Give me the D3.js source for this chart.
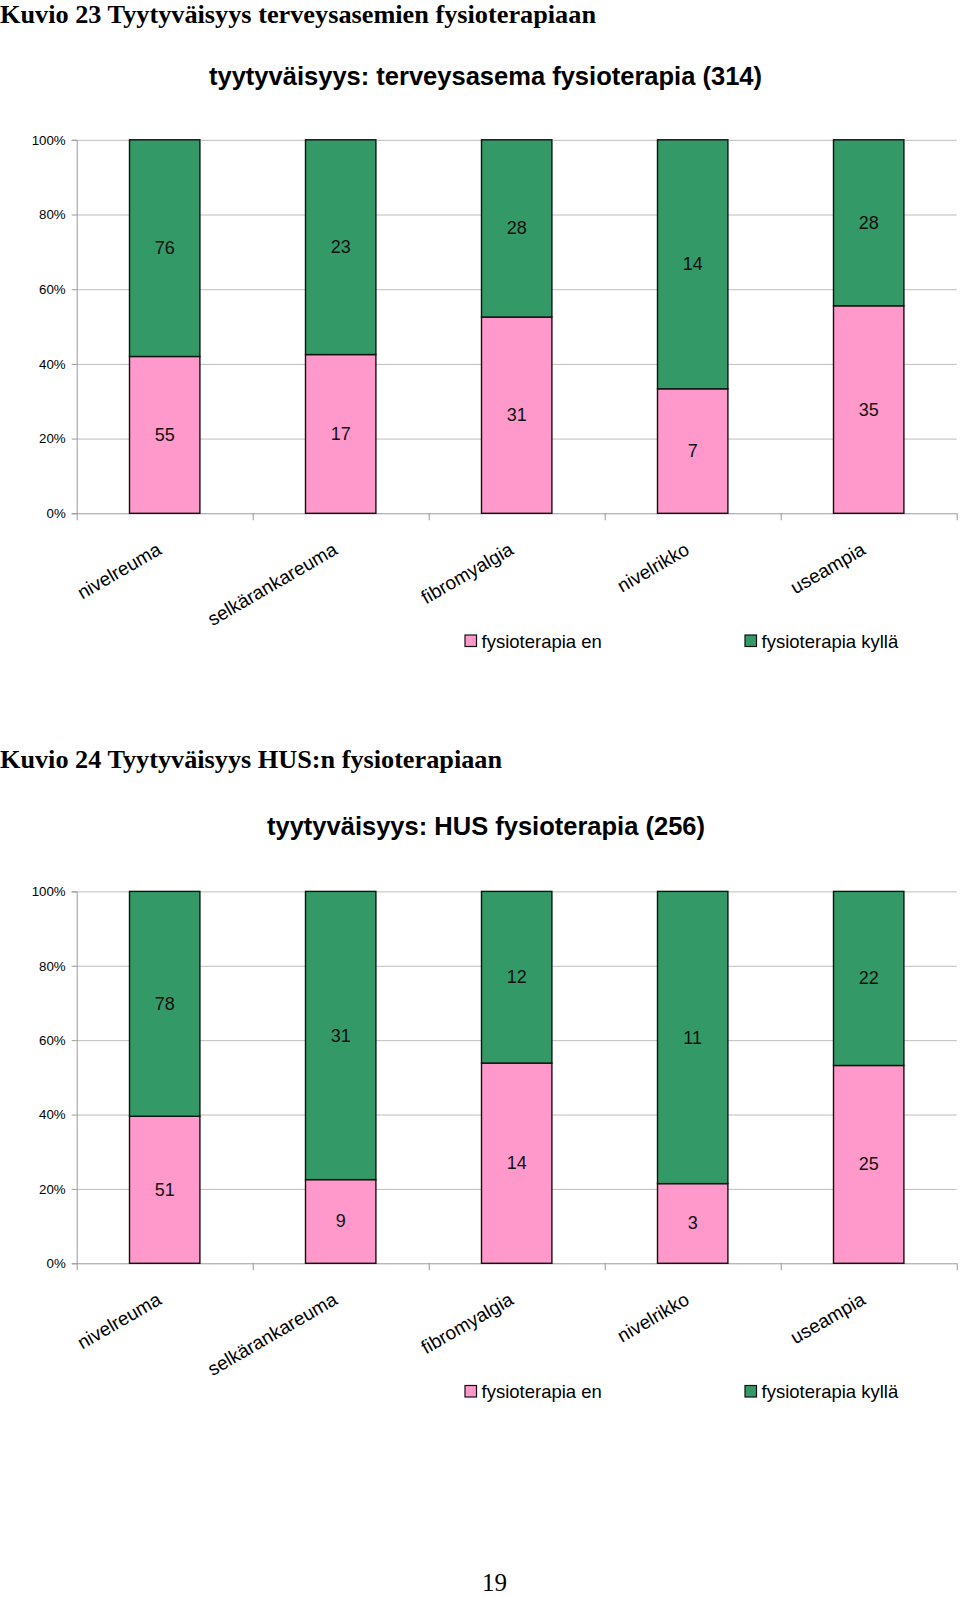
<!DOCTYPE html>
<html>
<head>
<meta charset="utf-8">
<script src="https://cdn.jsdelivr.net/npm/d3@7"></script>
<style>
  html, body { margin: 0; padding: 0; background: #fff; }
  svg { display: block; }
</style>
</head>
<body>
<svg id="page" width="960" height="1597"></svg>
<script>
// ---- data ----
const categories = ["nivelreuma", "selkärankareuma", "fibromyalgia", "nivelrikko", "useampia"];
const seriesNames = ["fysioterapia en", "fysioterapia kyllä"];
const chart1En = [55, 17, 31, 7, 35];
const chart1Kylla = [76, 23, 28, 14, 28];
const chart2En = [51, 9, 14, 3, 25];
const chart2Kylla = [78, 31, 12, 11, 22];
const yTickValues = [0, 0.2, 0.4, 0.6, 0.8, 1];
const headers = ["Kuvio 23 Tyytyväisyys terveysasemien fysioterapiaan", "Kuvio 24 Tyytyväisyys HUS:n fysioterapiaan"];
const titles = ["tyytyväisyys: terveysasema fysioterapia (314)", "tyytyväisyys: HUS fysioterapia (256)"];
const pageNumber = "19";

const colors = ["#FF99CC", "#339966"];
const sans = "'Liberation Sans', Arial, Helvetica, sans-serif";
const serif = "'Liberation Serif', 'Times New Roman', serif";

const svg = d3.select("#page");

function drawChart(cfg) {
  const g = svg.append("g");
  const left = 76.7, right = 956.7;

  // header (serif bold)
  g.append("text")
    .attr("x", 0).attr("y", cfg.headerY)
    .attr("font-family", serif).attr("font-weight", "bold")
    .attr("font-size", 25)
    .attr("textLength", cfg.headerWidth).attr("lengthAdjust", "spacingAndGlyphs")
    .text(cfg.header);

  // chart title
  g.append("text")
    .attr("x", cfg.titleX).attr("y", cfg.titleY)
    .attr("font-family", sans).attr("font-weight", "bold")
    .attr("font-size", 26)
    .attr("textLength", cfg.titleWidth).attr("lengthAdjust", "spacingAndGlyphs")
    .text(cfg.title);

  const x = d3.scaleBand().domain(categories).range([left, right])
    .paddingInner(0.6).paddingOuter(0.3);
  const y = d3.scaleLinear().domain([0, 1]).range([cfg.y0, cfg.y100]);

  const rows = categories.map((c, i) => ({ cat: c, en: cfg.en[i], kylla: cfg.kylla[i] }));
  const stack = d3.stack().keys(["en", "kylla"]).offset(d3.stackOffsetExpand);
  const series = stack(rows);

  // gridlines
  g.append("g")
    .attr("transform", `translate(${left},0)`)
    .call(d3.axisLeft(y).tickValues(yTickValues.slice(1)).tickSize(-(right - left)).tickFormat(""))
    .call(s => s.select(".domain").remove())
    .call(s => s.selectAll("line").attr("stroke", "#bdbdbd").attr("stroke-width", 1));

  // y axis
  g.append("g")
    .attr("transform", `translate(${left},0)`)
    .call(d3.axisLeft(y).tickValues(yTickValues).tickFormat(d3.format(".0%")).tickSize(5).tickPadding(6))
    .call(s => s.select(".domain").attr("stroke", "#9a9a9a"))
    .call(s => s.selectAll("line").attr("stroke", "#9a9a9a"))
    .call(s => s.selectAll("text").attr("font-family", sans).attr("font-size", 13.3).attr("fill", "#000"));

  // x axis line + boundary ticks
  const gap = (x.step() - x.bandwidth()) / 2;
  const bounds = categories.map(c => x(c) - gap).concat([right]);
  const xb = d3.scaleLinear().domain([left, right]).range([left, right]);
  g.append("g")
    .attr("transform", `translate(0,${cfg.y0})`)
    .call(d3.axisBottom(xb).tickValues(bounds).tickSize(7).tickSizeOuter(0).tickFormat(""))
    .call(s => s.select(".domain").attr("stroke", "#9a9a9a"))
    .call(s => s.selectAll("line").attr("stroke", "#9a9a9a"));

  // bars
  const sg = g.selectAll(".series").data(series).join("g")
    .attr("fill", (d, i) => colors[i]);
  sg.selectAll("rect").data(d => d).join("rect")
    .attr("x", d => x(d.data.cat))
    .attr("width", x.bandwidth())
    .attr("y", d => y(d[1]))
    .attr("height", d => y(d[0]) - y(d[1]))
    .attr("stroke", "#111").attr("stroke-width", 1.4);

  // value labels
  series.forEach((s, si) => {
    g.append("g").selectAll("text").data(s).join("text")
      .attr("x", d => x(d.data.cat) + x.bandwidth() / 2)
      .attr("y", d => (y(d[0]) + y(d[1])) / 2)
      .attr("text-anchor", "middle")
      .attr("dominant-baseline", "central")
      .attr("font-family", sans).attr("font-size", 18)
      .attr("fill", "#111")
      .text(d => d.data[s.key]);
  });

  // category labels
  g.append("g").selectAll("text").data(categories).join("text")
    .attr("transform", c => `translate(${x(c) + x.bandwidth() / 2 - 2},${cfg.y0 + 40}) rotate(-30)`)
    .attr("text-anchor", "end")
    .attr("font-family", sans).attr("font-size", 19)
    .attr("fill", "#000")
    .text(c => c);

  // legend
  const legX = [465, 745];
  const lg = g.append("g").selectAll("g").data(seriesNames).join("g")
    .attr("transform", (d, i) => `translate(${legX[i]},${cfg.legendY})`);
  lg.append("rect")
    .attr("x", 0).attr("y", -6).attr("width", 11.5).attr("height", 11.5)
    .attr("fill", (d, i) => colors[i]).attr("stroke", "#111").attr("stroke-width", 1.2);
  lg.append("text")
    .attr("x", 16.5).attr("y", 0)
    .attr("dominant-baseline", "central")
    .attr("font-family", sans).attr("font-size", 18.5)
    .attr("fill", "#000")
    .text(d => d);
}

drawChart({
  header: headers[0], headerY: 22.5, headerWidth: 596,
  title: titles[0], titleX: 209, titleY: 85, titleWidth: 553,
  y100: 139.8, y0: 513.3, legendY: 641,
  en: chart1En, kylla: chart1Kylla
});

drawChart({
  header: headers[1], headerY: 768, headerWidth: 502,
  title: titles[1], titleX: 267, titleY: 834.5, titleWidth: 438,
  y100: 891.4, y0: 1263.3, legendY: 1391.5,
  en: chart2En, kylla: chart2Kylla
});

svg.append("text")
  .attr("x", 494.5).attr("y", 1591)
  .attr("text-anchor", "middle")
  .attr("font-family", serif).attr("font-size", 25)
  .text(pageNumber);
</script>
</body>
</html>
